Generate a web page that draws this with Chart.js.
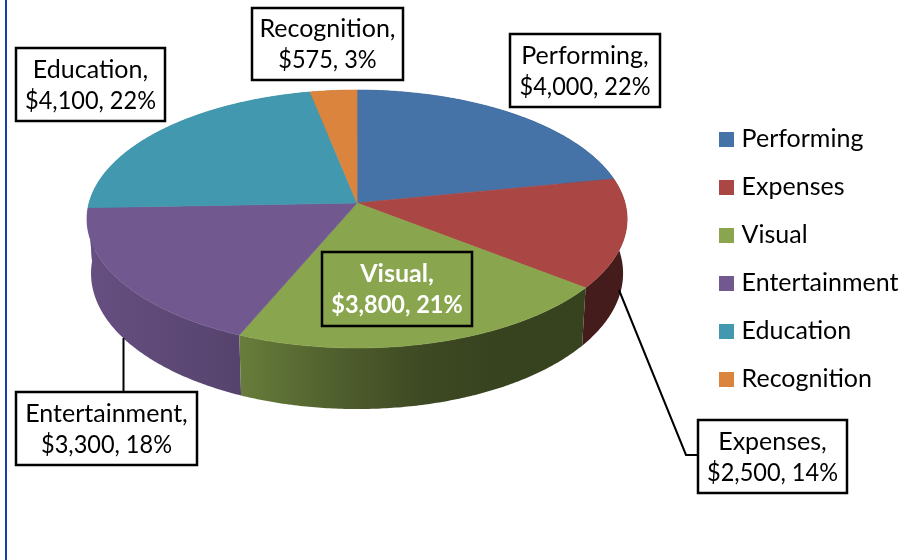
<!DOCTYPE html>
<html>
<head>
<meta charset="utf-8">
<style>
  html, body { margin: 0; padding: 0; background: #fff; }
  canvas { display: block; }
</style>
<script src="https://cdn.jsdelivr.net/npm/chart.js@4/dist/chart.umd.min.js"></script>
</head>
<body>
<canvas id="budgetChart" width="915" height="560"></canvas>
<script>
const categories = ["Performing", "Expenses", "Visual", "Entertainment", "Education", "Recognition"];
const amounts = [4000, 2500, 3800, 3300, 4100, 575];
const sliceColors = ["#4572a7", "#aa4643", "#89a54e", "#71588f", "#4198af", "#db843d"];

// label boxes: left, top, right, bottom (same order as categories)
const labelBoxes = [
    [509, 33, 661, 108],
    [697, 419, 848, 494],
    [321, 251, 473, 327],
    [15, 391, 198, 466],
    [15, 47, 166, 122],
    [251, 7, 404, 81],
];
const leaderLines = [
    [[123.5, 338], [123.5, 391]],
    [[619, 290], [686, 455], [697, 455]],
];
// how dark the wall gets going left to right across the pie
const wallShade = [[0, 0.9], [0.28, 0.76], [0.48, 0.56], [0.62, 0.45], [0.76, 0.4], [1, 0.4]];

// perspective of the tilted disc
const apexLift = 56;
const radiusScale = 268 / 259;
const persp = 0.124;
const squash = 127 / 268;
const wallDepth = 53.5;
const wallScale = 0.985;

function project(arc, angle, low) {
    const u = Math.cos(angle), v = Math.sin(angle);
    const w = 1 - persp * v;
    const k = low ? wallScale : 1;
    const r = arc.outerRadius * radiusScale;
    return [
        arc.x + k * r * u / w,
        arc.y - apexLift + r * squash * v / w + (low ? wallDepth / w : 0),
    ];
}

function rimPoints(arc, low) {
    const pts = [];
    const steps = Math.max(2, Math.ceil((arc.endAngle - arc.startAngle) / 0.01));
    for (let i = 0; i <= steps; i++) {
        pts.push(project(arc, arc.startAngle + (arc.endAngle - arc.startAngle) * i / steps, low));
    }
    return pts;
}

function tracePoly(ctx, pts) {
    ctx.beginPath();
    pts.forEach((p, i) => (i ? ctx.lineTo(p[0], p[1]) : ctx.moveTo(p[0], p[1])));
    ctx.closePath();
}

function shaded(hex, f) {
    const n = parseInt(hex.slice(1), 16);
    const r = Math.round((n >> 16) * f), g = Math.round(((n >> 8) & 255) * f), b = Math.round((n & 255) * f);
    return `rgb(${r},${g},${b})`;
}

const pie3d = {
    id: "pie3d",
    beforeDatasetsDraw(chart) {
        const ctx = chart.ctx;
        const arcs = chart.getDatasetMeta(0).data;
        ctx.save();
        // left page border
        ctx.fillStyle = "#1040a8";
        ctx.fillRect(5, 0, 2, 560);

        // walls first, the back ones get covered by the top
        const order = arcs.map((a, i) => i).sort((a, b) => {
            const mid = (x) => Math.sin((arcs[x].startAngle + arcs[x].endAngle) / 2);
            return mid(a) - mid(b);
        });
        const r = arcs[0].outerRadius * radiusScale;
        const left = arcs[0].x - r, width = r * 2;
        order.forEach((i) => {
            const arc = arcs[i];
            const grad = ctx.createLinearGradient(left, 0, left + width, 0);
            wallShade.forEach((s) => grad.addColorStop(s[0], shaded(sliceColors[i], s[1])));
            tracePoly(ctx, rimPoints(arc, false).concat(rimPoints(arc, true).reverse()));
            ctx.fillStyle = grad;
            ctx.fill();
        });

        // top of the disc
        arcs.forEach((arc, i) => {
            const apex = [arc.x, arc.y - apexLift];
            tracePoly(ctx, [apex].concat(rimPoints(arc, false)));
            ctx.fillStyle = sliceColors[i];
            ctx.strokeStyle = sliceColors[i];
            ctx.lineWidth = 0.6;
            ctx.fill();
            ctx.stroke();
        });

        // leader lines
        ctx.strokeStyle = "#000";
        ctx.lineWidth = 2;
        leaderLines.forEach((line) => {
            ctx.beginPath();
            line.forEach((p, i) => (i ? ctx.lineTo(p[0], p[1]) : ctx.moveTo(p[0], p[1])));
            ctx.stroke();
        });

        // data labels
        const total = amounts.reduce((a, b) => a + b, 0);
        ctx.textAlign = "center";
        ctx.textBaseline = "middle";
        categories.forEach((name, i) => {
            const b = labelBoxes[i];
            const isVisual = name === "Visual";
            ctx.lineWidth = 2.5;
            ctx.strokeStyle = "#000";
            if (!isVisual) {
                ctx.fillStyle = "#fff";
                ctx.fillRect(b[0] + 1, b[1] + 1, b[2] - b[0] - 2, b[3] - b[1] - 2);
            }
            ctx.strokeRect(b[0] + 1, b[1] + 1, b[2] - b[0] - 2, b[3] - b[1] - 2);
            const cx = (b[0] + b[2]) / 2, cy = (b[1] + b[3]) / 2;
            ctx.fillStyle = isVisual ? "#fff" : "#000";
            ctx.font = (isVisual ? "bold " : "") + "25px Lato";
            const pct = Math.round(amounts[i] / total * 100);
            const valueText = "$" + amounts[i].toLocaleString("en-US") + ", " + pct + "%";
            ctx.fillText(name + ",", cx, cy - 15);
            // Lato digits run wider than the original font, squeeze them a bit
            ctx.fillText(valueText, cx, cy + 16, ctx.measureText(valueText).width * 0.94);
        });
        ctx.restore();
        return false;
    },
};

function legendSwatch(color) {
    const c = document.createElement("canvas");
    c.width = 15;
    c.height = 15;
    const g = c.getContext("2d");
    g.fillStyle = color;
    g.fillRect(0, 0, 15, 15);
    return c;
}

new Chart(document.getElementById("budgetChart"), {
    type: "pie",
    data: {
        labels: categories,
        datasets: [{ data: amounts, backgroundColor: sliceColors, borderWidth: 0 }],
    },
    options: {
        responsive: false,
        animation: false,
        layout: { padding: { left: 13, right: 6.5, top: 0, bottom: 42 } },
        plugins: {
            tooltip: { enabled: false },
            legend: {
                position: "right",
                labels: {
                    color: "#000",
                    font: { family: "Lato", size: 25 },
                    usePointStyle: true,
                    boxWidth: 5,
                    boxHeight: 5,
                    padding: 23,
                    generateLabels: (chart) =>
                        categories.map((name, i) => ({
                            text: name,
                            fontColor: "#000",
                            pointStyle: legendSwatch(sliceColors[i]),
                            index: i,
                        })),
                },
            },
        },
    },
    plugins: [pie3d],
});
</script>
</body>
</html>
